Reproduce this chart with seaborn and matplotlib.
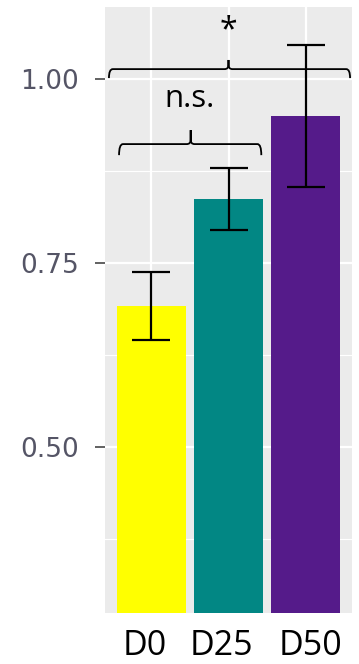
import numpy as np
import pandas as pd
import matplotlib
matplotlib.use("Agg")
import matplotlib.pyplot as plt
from matplotlib.path import Path
from matplotlib.patches import PathPatch
from matplotlib.ticker import FixedLocator
from matplotlib.transforms import ScaledTranslation
import seaborn as sns

# Group means and their error half-widths
groups = ["D0", "D25", "D50"]
means = [0.692, 0.837, 0.950]
errors = [0.046, 0.042, 0.097]
colors = ["#FFFF00", "#028784", "#551B8A"]

y_ticks = [0.50, 0.75, 1.00]
y_tick_labels = ["0.50", "0.75", "1.00"]
y_minor = [0.375, 0.625, 0.875]

df = pd.DataFrame({"group": groups, "value": means})

fig = plt.figure(figsize=(3.59, 6.64), dpi=100)
ax = fig.add_axes([105 / 359, 51 / 664, 247 / 359, 606 / 664])

sns.barplot(data=df, x="group", y="value", hue="group", palette=colors,
            width=0.9, errorbar=None, legend=False, saturation=1,
            linewidth=0, ax=ax, zorder=2)
ax.errorbar(range(len(groups)), means, yerr=errors, fmt="none",
            ecolor="black", elinewidth=1.6, capsize=14, capthick=1.6, zorder=3)

ax.set_xlim(-0.6, 2.6)
ax.set_ylim(0.2745, 1.098)

# ggplot-like panel
ax.set_facecolor("#EBEBEB")
ax.set_axisbelow(True)
for s in ax.spines.values():
    s.set_visible(False)
ax.yaxis.set_major_locator(FixedLocator(y_ticks))
ax.yaxis.set_minor_locator(FixedLocator(y_minor))
ax.set_yticklabels(y_tick_labels)
ax.grid(which="major", axis="both", color="white", linewidth=1.6)
ax.grid(which="minor", axis="y", color="white", linewidth=0.8)
ax.tick_params(axis="y", which="major", length=7.5, width=1.3, color="#555555",
               pad=11, labelsize=19, labelcolor="#555566")
ax.tick_params(axis="y", which="minor", length=0)
ax.tick_params(axis="x", length=0, pad=11.5, labelsize=24.5, labelcolor="black")
for lab in ax.get_xticklabels():
    lab.set_fontfamily("Open Sans")
ax.set_xlabel("")
ax.set_ylabel("")


def brace(ax, x0, x1, xc, y_line, y_end, y_tip, r=0.05, ry=0.006, lw=1.3):
    verts = [
        (x0, y_end),
        (x0, y_line), (x0 + r, y_line),
        (xc - r, y_line),
        (xc, y_line), (xc, y_line + ry),
        (xc, y_tip),
        (xc, y_line + ry),
        (xc, y_line), (xc + r, y_line),
        (x1 - r, y_line),
        (x1, y_line), (x1, y_end),
    ]
    codes = [Path.MOVETO,
             Path.CURVE3, Path.CURVE3,
             Path.LINETO,
             Path.CURVE3, Path.CURVE3,
             Path.LINETO,
             Path.LINETO,
             Path.CURVE3, Path.CURVE3,
             Path.LINETO,
             Path.CURVE3, Path.CURVE3]
    ax.add_patch(PathPatch(Path(verts, codes), fill=False, edgecolor="black",
                           linewidth=lw, clip_on=False, zorder=4))


# Comparison D0 vs D50
brace(ax, -0.549, 2.575, 1.0, 1.0136, 1.0014, 1.026)
ax.text(1.0, 1.066, "*", ha="center", va="center", fontsize=23,
        fontfamily="Open Sans", color="black")

# Comparison D0 vs D25
brace(ax, -0.418, 1.425, 0.51, 0.9117, 0.8967, 0.9307)
ax.text(0.5, 0.973, "n.s.", ha="center", va="center", fontsize=22.5,
        fontfamily="Open Sans", color="black")

# small horizontal nudges of the group labels
for lab, dx in zip(ax.get_xticklabels(), [-7, -7, 5]):
    lab.set_transform(lab.get_transform() +
                      ScaledTranslation(dx / 100, 0, fig.dpi_scale_trans))

fig.savefig("out.png", dpi=100, facecolor="white")
